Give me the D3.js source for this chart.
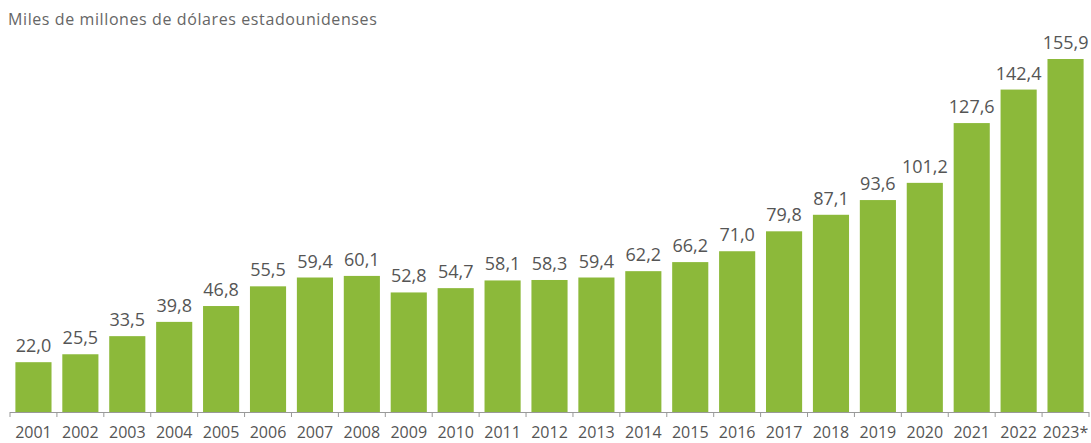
<!DOCTYPE html>
<html>
<head>
<meta charset="utf-8">
<script src="https://cdn.jsdelivr.net/npm/d3@7"></script>
<style>
  body { margin: 0; background: #fff; }
  svg text { font-family: "Open Sans", sans-serif; }
</style>
</head>
<body>
<div id="wrap"></div>
<script>
var years = ["2001","2002","2003","2004","2005","2006","2007","2008","2009","2010","2011","2012",
    "2013","2014","2015","2016","2017","2018","2019","2020","2021","2022","2023*"];
var values = [22.0,25.5,33.5,39.8,46.8,55.5,59.4,60.1,52.8,54.7,58.1,58.3,
    59.4,62.2,66.2,71.0,79.8,87.1,93.6,101.2,127.6,142.4,155.9];
var title = "Miles de millones de dólares estadounidenses";

var W = 1091, H = 443;
var base = 412;

var svg = d3.select('#wrap').append("svg")
    .attr("width", W)
    .attr("height", H);

var x = d3.scaleBand()
    .domain(years)
    .range([10, 1089])
    .paddingInner(0.23)
    .paddingOuter(0.115);

var y = d3.scaleLinear()
    .domain([0, 155.9])
    .range([base, 59]);

var fmt = function(v) {
    return v.toFixed(1).replace(".", ",");
};

svg.append("text")
    .attr("x", 8)
    .attr("y", 25)
    .attr("fill", "#666")
    .style("font-size", "16px")
    .style("letter-spacing", "0.6px")
    .text(title);

svg.selectAll("rect.bar")
    .data(values)
    .enter()
    .append("rect")
    .attr("class", "bar")
    .attr("x", function(d, i) { return x(years[i]); })
    .attr("y", function(d) { return y(d); })
    .attr("width", x.bandwidth())
    .attr("height", function(d) { return base - y(d); })
    .attr("fill", "#8cb93a");

svg.selectAll("text.val")
    .data(values)
    .enter()
    .append("text")
    .attr("class", "val")
    .attr("x", function(d, i) { return x(years[i]) + x.bandwidth() / 2; })
    .attr("y", function(d) { return y(d) - 10; })
    .attr("text-anchor", "middle")
    .attr("fill", "#555")
    .style("font-size", "18px")
    .text(fmt);

// axis line + ticks at band boundaries
var step = x.step();
var half = step * x.paddingInner() / 2;
var edges = years.map(function(d) { return x(d) - half; });
edges.push(x(years[years.length - 1]) + x.bandwidth() + half);

svg.append("line")
    .attr("x1", edges[0]).attr("x2", edges[edges.length - 1])
    .attr("y1", base + 0.5).attr("y2", base + 0.5)
    .attr("stroke", "#999");

svg.selectAll("line.tick")
    .data(edges)
    .enter()
    .append("line")
    .attr("class", "tick")
    .attr("x1", function(d) { return d; })
    .attr("x2", function(d) { return d; })
    .attr("y1", base)
    .attr("y2", base + 5)
    .attr("stroke", "#999");

svg.selectAll("text.year")
    .data(years)
    .enter()
    .append("text")
    .attr("class", "year")
    .attr("x", function(d) { return x(d) + x.bandwidth() / 2; })
    .attr("y", 438)
    .attr("text-anchor", "middle")
    .attr("fill", "#555")
    .style("font-size", "16px")
    .text(function(d) { return d; });
</script>
</body>
</html>
